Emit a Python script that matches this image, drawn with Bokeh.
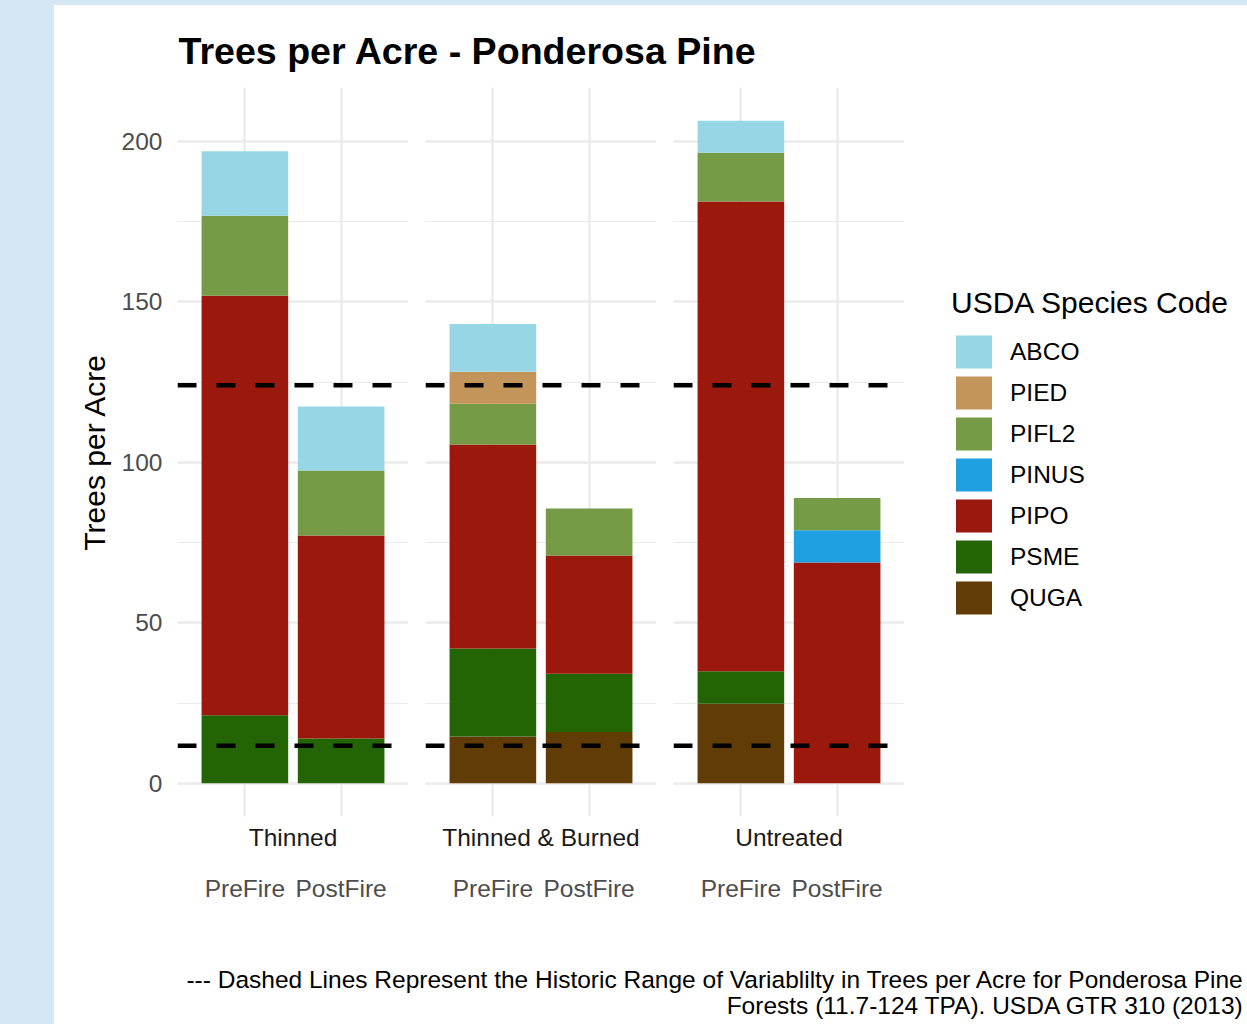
from bokeh.plotting import figure
from bokeh.models import (FactorRange, Range1d, FixedTicker, Span, Label, Legend, LegendItem,
                          Spacer, ColumnDataSource, Title)
from bokeh.layouts import row, column
from bokeh.embed import file_html
from bokeh.resources import INLINE

# ---------------- data ----------------
title_text = "Trees per Acre - Ponderosa Pine"
y_label = "Trees per Acre"
legend_title = "USDA Species Code"
caption_lines = [
    "--- Dashed Lines Represent the Historic Range of Variablilty in Trees per Acre for Ponderosa Pine",
    "Forests (11.7-124 TPA). USDA GTR 310 (2013)",
]

groups = ["Thinned", "Thinned & Burned", "Untreated"]
periods = ["PreFire", "PostFire"]
species = ["ABCO", "PIED", "PIFL2", "PINUS", "PIPO", "PSME", "QUGA"]
species_colors = ["#97D7E5", "#C4955A", "#759B46", "#1FA0E0", "#9A190C", "#236405", "#613C07"]

# bar order: Thinned Pre/Post, Thinned & Burned Pre/Post, Untreated Pre/Post
ABCO = [20.1, 20.0, 14.9, 0.0, 10.0, 0.0]
PIED = [0.0, 0.0, 10.0, 0.0, 0.0, 0.0]
PIFL2 = [24.9, 20.2, 12.7, 14.6, 15.2, 10.1]
PINUS = [0.0, 0.0, 0.0, 0.0, 0.0, 10.0]
PIPO = [130.7, 63.2, 63.5, 36.9, 146.3, 68.8]
PSME = [21.2, 14.0, 27.4, 18.1, 10.1, 0.0]
QUGA = [0.0, 0.0, 14.6, 16.0, 24.8, 0.0]

hist_range = [11.7, 124]
y_ticks = [0, 50, 100, 150, 200]
y_minor_ticks = [25, 75, 125, 175]

# ---------------- styling ----------------
FONT = "Liberation Sans"
GRID = "#ebebeb"
BLUE = "#d5e6f4"
values = {"ABCO": ABCO, "PIED": PIED, "PIFL2": PIFL2, "PINUS": PINUS,
          "PIPO": PIPO, "PSME": PSME, "QUGA": QUGA}
color_of = dict(zip(species, species_colors))
stack_order = list(reversed(species))  # bottom to top

totals = [sum(values[s][i] for s in species) for i in range(len(groups) * len(periods))]
ymax = max(totals)
pad = 0.05 * ymax
y_range = Range1d(-pad, ymax + pad)

FIG_H = 852
TOP_H = 5
TITLE_H = 73
CAP_H = 94
LEFT_W = 54
MAIN_W = 1247 - LEFT_W
W1, W2, W3 = 354, 248, 248
W4 = MAIN_W - W1 - W2 - W3


def group_source(gi):
    data = {"period": periods}
    for s in species:
        data[s] = [values[s][2 * gi], values[s][2 * gi + 1]]
    return ColumnDataSource(data)


def make_panel(gi, width, left, show_y):
    src = group_source(gi)
    p = figure(x_range=FactorRange(factors=periods, range_padding=0.2), y_range=y_range,
               width=width, height=FIG_H, output_backend="svg", toolbar_location=None,
               title=None, y_axis_location="left" if show_y else None,
               min_border_left=left, min_border_right=0, min_border_top=9,
               min_border_bottom=114)
    p.outline_line_color = None
    p.background_fill_color = "white"
    p.border_fill_color = "white"

    p.vbar_stack(stack_order, x="period", width=0.9, source=src,
                 fill_color=[color_of[s] for s in stack_order], line_color=None)

    for v in hist_range:
        p.add_layout(Span(location=v, dimension="width", line_color="black",
                          line_width=4.5, line_dash="19 20"))

    # grids
    p.ygrid.ticker = FixedTicker(ticks=y_ticks, minor_ticks=y_minor_ticks)
    p.ygrid.grid_line_color = GRID
    p.ygrid.grid_line_width = 2.4
    p.ygrid.minor_grid_line_color = GRID
    p.ygrid.minor_grid_line_width = 1.2
    p.xgrid.grid_line_color = GRID
    p.xgrid.grid_line_width = 2.4

    # x axis (period labels)
    ax = p.xaxis[0]
    ax.axis_line_color = None
    ax.major_tick_line_color = None
    ax.minor_tick_line_color = None
    ax.major_tick_out = 0
    ax.major_tick_in = 0
    ax.major_label_standoff = 19
    ax.major_label_text_font = FONT
    ax.major_label_text_font_size = "24.5px"
    ax.major_label_text_color = "#4d4d4d"

    # group (facet strip) label between panel and period labels
    gt = Title(text=groups[gi], align="center", text_font=FONT, text_font_size="24.5px",
               text_font_style="normal", text_color="#1a1a1a", standoff=10)
    p.below = [gt] + list(p.below)

    if show_y:
        ya = p.yaxis[0]
        ya.ticker = FixedTicker(ticks=y_ticks, minor_ticks=[])
        ya.axis_line_color = None
        ya.major_tick_line_color = None
        ya.minor_tick_line_color = None
        ya.major_tick_out = 0
        ya.major_tick_in = 0
        ya.major_label_standoff = 15
        ya.major_label_text_font = FONT
        ya.major_label_text_font_size = "24.5px"
        ya.major_label_text_color = "#4d4d4d"
        ya.axis_label = y_label
        ya.axis_label_standoff = 8
        ya.axis_label_text_font = FONT
        ya.axis_label_text_font_size = "30px"
        ya.axis_label_text_font_style = "normal"
        ya.axis_label_text_color = "black"
    return p


p1 = make_panel(0, W1, 123, True)
p2 = make_panel(1, W2, 17, False)
p3 = make_panel(2, W3, 17, False)

# legend panel: hidden copies of the stacked renderers provide the legend keys
p4 = figure(width=W4, height=FIG_H, output_backend="svg", toolbar_location=None, title=None,
            x_axis_location=None, y_axis_location=None, min_border=0,
            x_range=FactorRange(factors=periods), y_range=y_range)
p4.grid.visible = False
p4.outline_line_color = None
p4.border_fill_color = "white"
p4.background_fill_color = "white"
rs4 = p4.vbar_stack(stack_order, x="period", width=0.9, source=group_source(2),
                    fill_color=[color_of[s] for s in stack_order], line_color=None,
                    visible=False)
rmap4 = dict(zip(stack_order, rs4))

legend = Legend(items=[LegendItem(label=s, renderers=[rmap4[s]]) for s in species],
                location=(47, 198), title=legend_title,
                title_text_font=FONT, title_text_font_size="30px", title_text_font_style="normal",
                title_text_color="black", title_standoff=11,
                label_text_font=FONT, label_text_font_size="24.5px", label_text_color="black",
                glyph_width=45, glyph_height=41, label_standoff=14, spacing=0,
                padding=0, margin=0, border_line_color=None, background_fill_alpha=0,
                inactive_fill_alpha=0)
p4.add_layout(legend)


def text_fig(height):
    f = figure(width=MAIN_W, height=height, output_backend="svg", toolbar_location=None,
               title=None, x_axis_location=None, y_axis_location=None, min_border=0,
               x_range=Range1d(0, 1), y_range=Range1d(0, 1))
    f.grid.visible = False
    f.outline_line_color = None
    f.border_fill_color = "white"
    f.background_fill_color = "white"
    return f


tf = text_fig(TITLE_H)
tf.add_layout(Label(x=178 - LEFT_W, y=28, x_units="screen", y_units="screen", text=title_text,
                    text_font=FONT, text_font_size="37.6px", text_font_style="bold",
                    text_color="black", text_baseline="middle", text_align="left"))

cf = text_fig(CAP_H)
for i, line in enumerate(caption_lines):
    cf.add_layout(Label(x=1244 - LEFT_W, y=45.5 - 26 * i, x_units="screen", y_units="screen",
                        text=line, text_font=FONT, text_font_size="24.5px", text_color="black",
                        text_baseline="middle", text_align="right"))

blue_left = Spacer(width=LEFT_W, height=TOP_H + TITLE_H + FIG_H + CAP_H,
                   styles={"background-color": BLUE})
blue_top = Spacer(width=MAIN_W, height=TOP_H, styles={"background-color": BLUE})
layout = row(blue_left, column(blue_top, tf, row(p1, p2, p3, p4), cf))

open("out.html", "w").write(file_html(layout, INLINE))
